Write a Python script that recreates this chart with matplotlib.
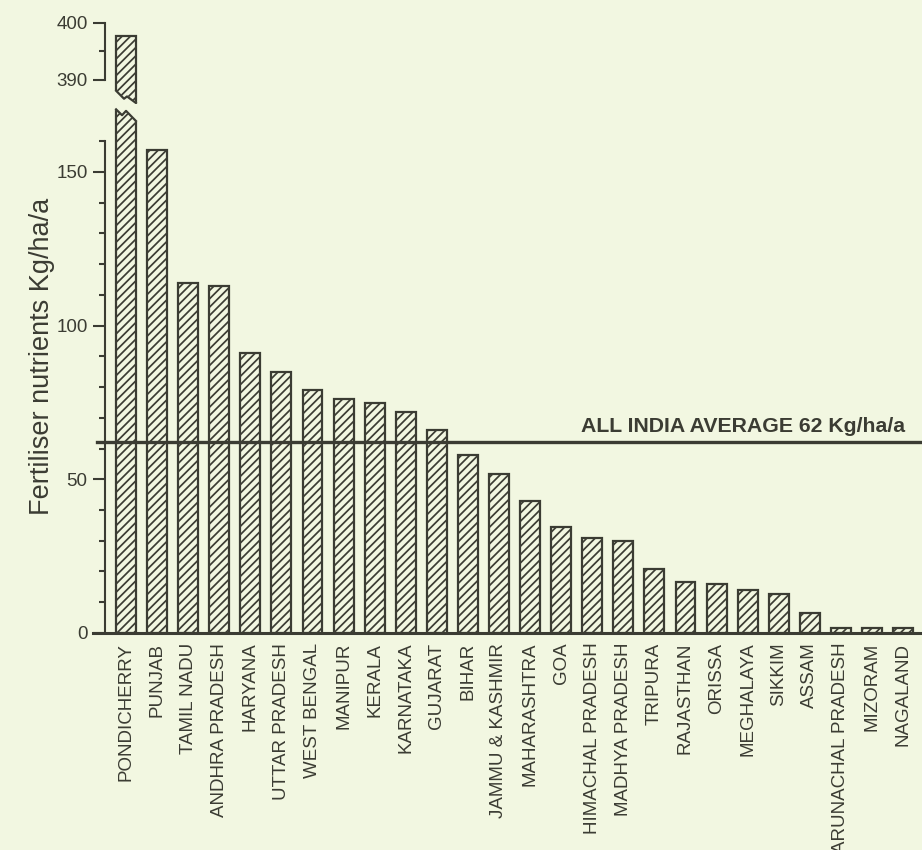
import numpy as np
import matplotlib
matplotlib.use("Agg")
import matplotlib.pyplot as plt

# Fertiliser consumption by state (Kg/ha/a)
states = ["PONDICHERRY", "PUNJAB", "TAMIL NADU", "ANDHRA PRADESH", "HARYANA",
          "UTTAR PRADESH", "WEST BENGAL", "MANIPUR", "KERALA", "KARNATAKA",
          "GUJARAT", "BIHAR", "JAMMU & KASHMIR", "MAHARASHTRA", "GOA",
          "HIMACHAL PRADESH", "MADHYA PRADESH", "TRIPURA", "RAJASTHAN", "ORISSA",
          "MEGHALAYA", "SIKKIM", "ASSAM", "ARUNACHAL PRADESH", "MIZORAM", "NAGALAND"]
values = [397.7, 157.0, 113.8, 112.8, 91.0,
          84.8, 79.0, 76.0, 74.9, 71.9,
          66.0, 57.9, 51.7, 42.8, 34.5,
          30.8, 29.9, 20.8, 16.7, 15.9,
          14.0, 12.6, 6.4, 1.6, 1.6, 1.6]
avg = 62

bg = "#f2f7e1"
ink = "#3b3c33"

plt.rcParams["font.family"] = ["Liberation Sans", "DejaVu Sans"]
plt.rcParams["hatch.linewidth"] = 1.25
plt.rcParams["hatch.color"] = ink

fig = plt.figure(figsize=(9.22, 8.5), dpi=100, facecolor=bg)
ax = fig.add_axes([0.1139, 0.2553, 0.8861, 0.6222])      # lower part 0..172
axt = fig.add_axes([0.1139, 0.8778, 0.8861, 0.0986])     # upper part 385.8..400.5

x = np.arange(len(states))
w = 0.64
for a in (ax, axt):
    a.set_facecolor(bg)
    a.bar(x, values, width=w, color=bg, edgecolor=ink, linewidth=1.6,
          hatch="////", zorder=2)
    a.set_xlim(-0.676, 25.61)
    for s in ["top", "right", "bottom"]:
        a.spines[s].set_visible(False)
    a.spines["left"].set_linewidth(1.5)
    a.spines["left"].set_color(ink)
    a.tick_params(axis="y", which="major", length=8.5, width=1.5, color=ink,
                  labelsize=13.5, labelcolor=ink, pad=4)
    a.tick_params(axis="y", which="minor", length=4.3, width=1.5, color=ink)

ax.set_ylim(0, 172)
ax.set_yticks([0, 50, 100, 150])
ax.set_yticks(np.arange(10, 170, 10), minor=True)
ax.spines["left"].set_bounds(0, 160)
ax.set_xticks(x)
ax.set_xticklabels(states, rotation=90, ha="center", va="top",
                   fontsize=13.5, color=ink)
ax.tick_params(axis="x", length=0, pad=7)

axt.set_ylim(385.8, 400.5)
axt.set_yticks([390, 400])
axt.set_yticks([395], minor=True)
axt.spines["left"].set_bounds(390, 400)
axt.set_xticks([])

# axis line at zero and the all-India average
ax.axhline(0, xmin=-0.0147, xmax=1, color=ink, lw=2.2, clip_on=False, zorder=4)
ax.axhline(avg, xmin=-0.01, xmax=1, color=ink, lw=2.4, clip_on=False, zorder=4)
ax.text(25.06, avg + 2.0, "ALL INDIA AVERAGE %d Kg/ha/a" % avg, ha="right",
        va="bottom", fontsize=15.3, fontweight="bold", color=ink, zorder=5)

# break marks on the tall bar
x0, x1 = -w / 2, w / 2
m = 0.06
fr = np.array([0, 0.3, 0.5, 1.0])
cx = x0 + fr * (x1 - x0)
top = ax.get_ylim()[1]
cy = top - np.array([1.7, 3.6, 2.2, 5.5])
ax.fill(np.r_[x0 - m, x0 - m, cx, x1 + m, x1 + m],
        np.r_[top + 10, cy[0], cy, cy[-1], top + 10], color=bg, zorder=3)
ax.plot(cx, cy, color=ink, lw=1.6, zorder=3.5, solid_capstyle="projecting")

fr2 = np.array([0, 0.4, 0.55, 1.0])
cx2 = x0 + fr2 * (x1 - x0)
bot = axt.get_ylim()[0]
cy2 = bot + np.array([2.3, 0.9, 1.3, 0.15])
axt.fill(np.r_[x0 - m, x0 - m, cx2, x1 + m, x1 + m],
         np.r_[bot - 5, cy2[0], cy2, cy2[-1], bot - 5], color=bg, zorder=3)
axt.plot(cx2, cy2, color=ink, lw=1.6, zorder=3.5, solid_capstyle="projecting")

fig.text(0.046, 0.581, "Fertiliser nutrients Kg/ha/a", rotation=90,
         ha="center", va="center", fontsize=19.5, color=ink)

fig.savefig("out.png", dpi=100, facecolor=bg)
